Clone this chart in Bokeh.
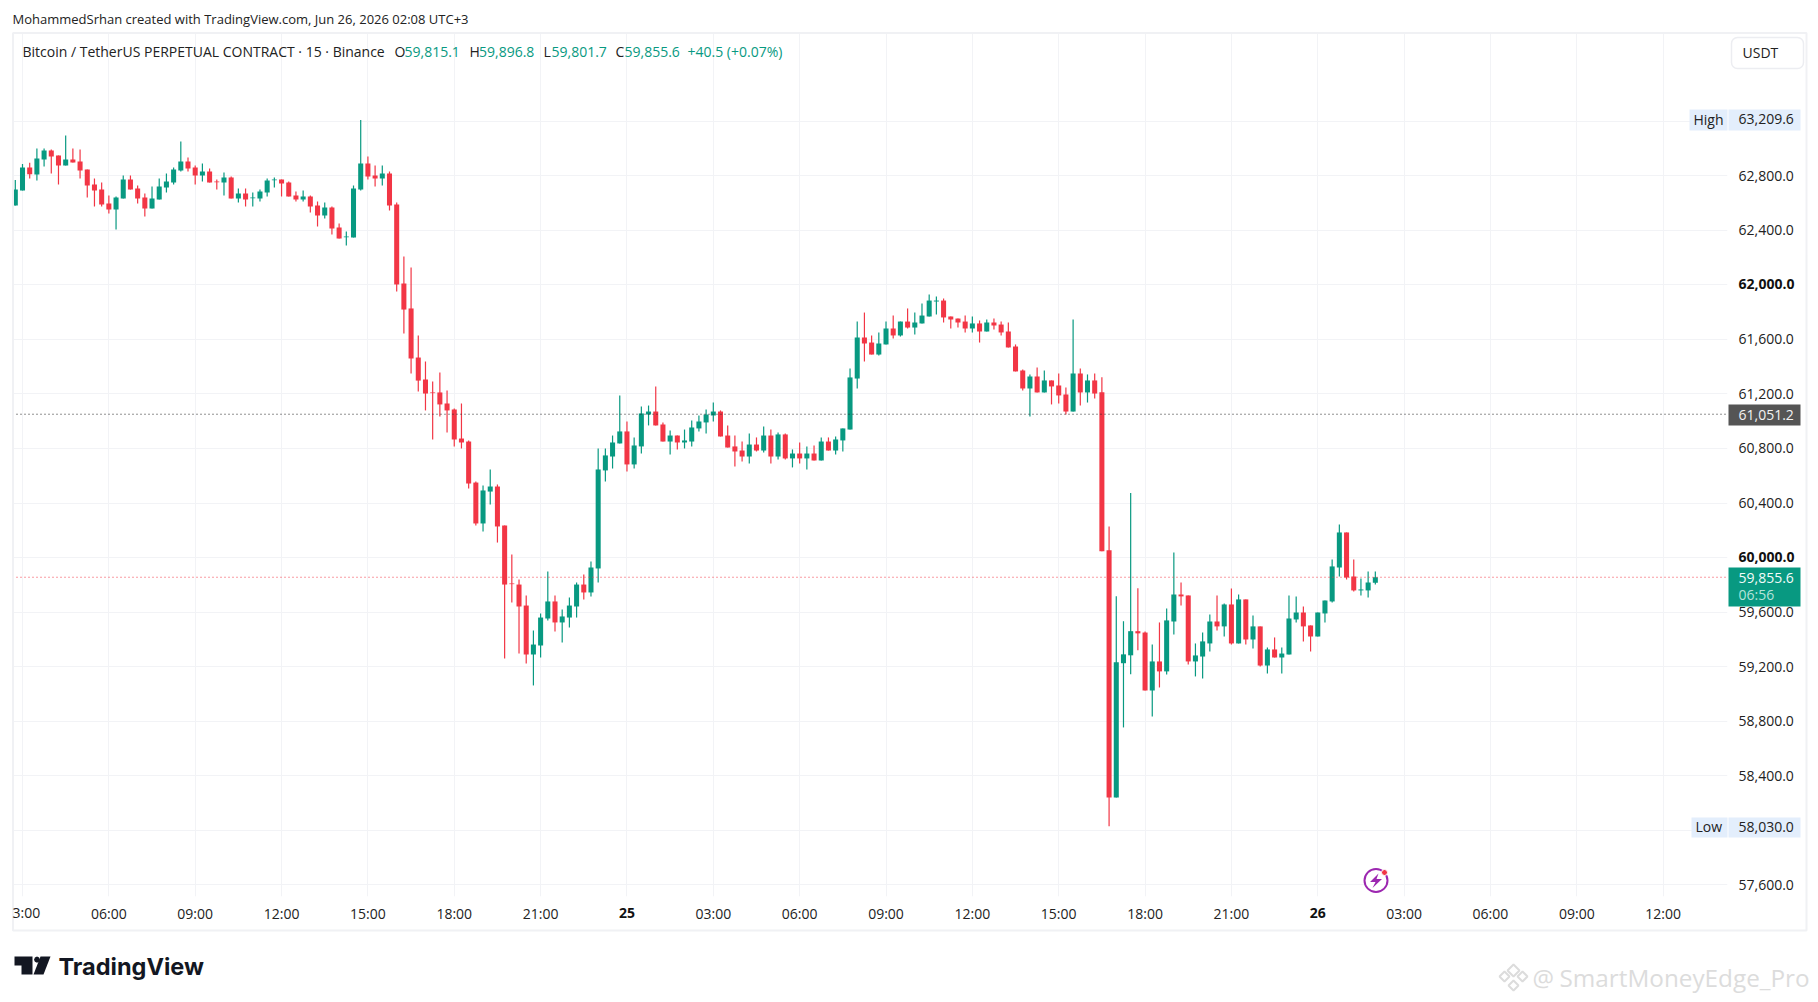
from bokeh.plotting import figure
from bokeh.layouts import column
from bokeh.models import (FixedTicker, LinearAxis, NumeralTickFormatter, Label, BoxAnnotation,
                          PolyAnnotation, Span, ColumnDataSource, Range1d)
from bokeh.embed import file_html
from bokeh.resources import INLINE

opens = [62582,62692,62861,62809,62919,62985,62949,62875,62919,62905,62846,62736,62699,62597,62553,62633,62773,62707,62641,62560,
 62626,62714,62751,62839,62905,62861,62802,62831,62758,62751,62787,62633,62670,62636,62633,62677,62768,62773,62751,62655,
 62626,62648,62582,62509,62567,62421,62350,62347,62699,62890,62802,62780,62817,62589,62010,61827,61467,61306,61211,61211,
 61130,61086,60873,60851,60550,60250,60484,60521,60235,59810,59802,59648,59289,59355,59553,59678,59524,59560,59641,59802,
 59744,59920,60639,60741,60837,60925,60683,60815,61049,61071,60976,60851,60895,60844,60851,60947,60991,61042,61071,60895,
 60815,60785,60741,60829,60785,60895,60741,60903,60727,60763,60727,60763,60712,60851,60785,60859,60939,61313,61614,61577,
 61489,61563,61680,61629,61731,61687,61717,61768,61878,61885,61768,61753,61731,61680,61717,61658,61724,61709,61658,61548,
 61372,61240,61328,61211,61299,61262,61196,61071,61350,61211,61299,61213,60053,58241,59225,59283,59460,59450,59025,59238,
 59165,59531,59729,59722,59238,59274,59370,59531,59495,59656,59370,59693,59399,59495,59208,59326,59267,59289,59546,59597,
 59502,59421,59590,59678,59927,60184,59861,59759,59759,59815.1]
highs = [62770,62887,62895,63000,63000,62993,62949,63095,63000,62993,62846,62780,62751,62655,62648,62802,62802,62729,62670,62721,
 62780,62817,62861,63051,62934,62875,62890,62853,62773,62824,62795,62707,62707,62677,62699,62780,62787,62773,62758,62685,
 62692,62655,62611,62604,62575,62450,62391,62729,63209.6,62941,62875,62875,62831,62604,62208,62127,61629,61438,61291,61357,
 61225,61093,61130,60859,60558,60528,60646,60536,60235,60022,59839,59722,59465,59590,59898,59722,59619,59707,59817,59876,
 59971,60800,60800,60895,61189,60998,60881,61108,61115,61255,60991,60932,60895,60939,61005,61042,61086,61137,61079,60969,
 60895,60851,60910,60881,60961,60939,60917,60910,60793,60844,60815,60822,60881,60881,60888,60947,61387,61731,61797,61629,
 61651,61731,61775,61731,61827,61797,61863,61929,61915,61900,61768,61753,61775,61768,61739,61746,61753,61731,61724,61563,
 61379,61343,61394,61372,61299,61350,61247,61746,61387,61343,61350,61322,60228,59717,59533,60473,59775,59458,59362,59524,
 59627,60037,59817,59722,59370,59450,59582,59722,59663,59773,59729,59693,59575,59495,59340,59414,59340,59722,59715,59641,
 59502,59597,59685,59986,60243,60184,59986,59847,59898,59896.8]
lows = [62582,62692,62780,62765,62868,62817,62736,62875,62897,62780,62641,62575,62575,62523,62406,62633,62699,62597,62501,62560,
 62626,62677,62736,62831,62831,62736,62758,62751,62699,62655,62633,62604,62575,62575,62611,62648,62714,62648,62648,62611,
 62611,62531,62428,62487,62369,62340,62289,62347,62692,62773,62721,62729,62545,61951,61643,61350,61218,61079,60866,61035,
 60917,60815,60800,60506,60235,60191,60389,60110,59260,59670,59296,59223,59062,59267,59538,59458,59377,59487,59560,59692,
 59714,59817,60558,60653,60837,60631,60653,60763,60969,60969,60851,60756,60793,60800,60815,60925,60910,60998,60888,60807,
 60668,60705,60690,60778,60771,60690,60719,60719,60661,60690,60646,60712,60712,60785,60756,60778,60939,61240,61438,61489,
 61482,61563,61607,61621,61680,61636,61717,61768,61783,61724,61680,61687,61651,61651,61577,61658,61673,61629,61541,61365,
 61225,61035,61211,61211,61123,61130,61049,61071,61115,61137,61167,60046,58030,58241,58754,59144,59321,59025,58834,59047,
 59142,59436,59648,59216,59128,59113,59311,59465,59421,59362,59370,59362,59333,59201,59150,59267,59150,59289,59524,59384,
 59311,59421,59524,59670,59861,59839,59751,59722,59707,59801.7]
closes = [62699,62861,62812,62927,62985,62941,62875,62919,62897,62839,62729,62692,62589,62553,62641,62773,62699,62633,62560,62633,
 62721,62758,62846,62905,62853,62802,62831,62751,62753,62787,62633,62670,62626,62641,62685,62765,62773,62743,62648,62626,
 62648,62575,62509,62567,62413,62340,62355,62707,62890,62795,62780,62817,62582,62003,61819,61460,61298,61203,61206,61123,
 61079,60866,60844,60543,60250,60492,60521,60228,59802,59805,59641,59289,59362,59560,59678,59524,59568,59648,59802,59744,
 59927,60646,60749,60844,60925,60683,60822,61057,61071,60969,60851,60895,60844,60859,60954,60998,61049,61071,60888,60807,
 60778,60741,60829,60785,60895,60741,60903,60727,60763,60727,60763,60712,60851,60785,60866,60947,61321,61614,61570,61489,
 61570,61680,61629,61731,61687,61724,61775,61885,61885,61761,61746,61724,61680,61717,61658,61724,61702,61651,61541,61365,
 61240,61328,61211,61299,61255,61189,61071,61350,61211,61299,61203,60046,58241,59232,59290,59460,59444,59025,59238,59165,
 59539,59729,59715,59238,59282,59385,59531,59495,59656,59370,59693,59399,59495,59208,59326,59267,59296,59553,59597,59495,
 59421,59597,59685,59935,60184,59854,59759,59766,59817,59855.6]
first_bar = -1                       # bar index of the first (02:45) candle; 03:00 = 0
time_ticks = [12, 24, 36, 48, 60, 72, 96, 108, 120, 132, 144, 156, 168, 192, 204, 216, 228]
time_labels = ["06:00", "09:00", "12:00", "15:00", "18:00", "21:00", "03:00", "06:00", "09:00", "12:00",
               "15:00", "18:00", "21:00", "03:00", "06:00", "09:00", "12:00"]
day_ticks = [84, 180]
day_labels = ["25", "26"]
vgrid_ticks = [0] + sorted(time_ticks + day_ticks)
price_ticks = [57600, 58400, 58800, 59200, 59600, 60400, 60800, 61200, 61600, 62400, 62800]
bold_prices = [60000, 62000]
hgrid_ticks = sorted(price_ticks + bold_prices + [58000, 63200])
high_price, low_price = 63209.6, 58030.0
prev_close = 61051.2
last_price = closes[-1]

UP, DOWN = "#089981", "#F23645"
GRID = "#F2F3F6"
FONT = "Open Sans"
W, H = 1818, 1002
X0, X1, Y0, Y1 = -1.39, 236.94, 57514, 63851
F_L, F_R, F_T, F_B = 12, 1727, 32, 896   # chart pane in page pixels

bars = [first_bar + i for i in range(len(opens))]
src = ColumnDataSource(dict(
    x=bars, high=highs, low=lows,
    top=[max(o, c) for o, c in zip(opens, closes)],
    bottom=[min(o, c) for o, c in zip(opens, closes)],
    color=[UP if c >= o else DOWN for o, c in zip(opens, closes)],
))

p = figure(width=W, height=H, output_backend="svg", toolbar_location=None,
           x_range=Range1d(X0, X1), y_range=Range1d(Y0, Y1),
           x_axis_location=None, y_axis_location=None, frame_align=False,
           min_border_left=F_L, min_border_right=W - F_R, min_border_top=F_T, min_border_bottom=H - F_B,
           background_fill_color="white", border_fill_color="white", outline_line_color=None)
p.xgrid.ticker = FixedTicker(ticks=vgrid_ticks)
p.ygrid.ticker = FixedTicker(ticks=hgrid_ticks)
p.xgrid.grid_line_color = GRID
p.ygrid.grid_line_color = GRID
p.segment("x", "high", "x", "low", color="color", line_width=1.2, source=src)
p.vbar(x="x", top="top", bottom="bottom", width=0.7, fill_color="color", line_color=None, source=src)


def style_axis(ax):
    ax.axis_line_color = None
    ax.major_tick_line_color = None
    ax.minor_tick_line_color = None
    ax.major_tick_in = 0
    ax.major_tick_out = 0
    ax.minor_tick_in = 0
    ax.minor_tick_out = 0
    ax.major_label_text_font = FONT
    ax.major_label_text_font_size = "14px"
    ax.major_label_text_color = "#222222"


ya = LinearAxis(ticker=FixedTicker(ticks=price_ticks), formatter=NumeralTickFormatter(format="0,0.0"))
style_axis(ya)
ya.major_label_standoff = 11
p.add_layout(ya, "right")
xa = LinearAxis(ticker=FixedTicker(ticks=time_ticks),
                major_label_overrides=dict(zip(time_ticks, time_labels)))
style_axis(xa)
xa.major_label_standoff = 7
p.add_layout(xa, "below")

p.add_layout(Span(location=prev_close, dimension="width", line_color="#222222", line_dash="1 3", line_width=1))
p.add_layout(Span(location=last_price, dimension="width", line_color=DOWN, line_dash="1 3", line_width=1))

# transparent overlay in page pixels, for everything that lies outside the chart pane
o = figure(width=W, height=H, output_backend="svg", toolbar_location=None,
           x_range=Range1d(0, W), y_range=Range1d(H, 0),
           x_axis_location=None, y_axis_location=None, frame_align=False,
           min_border=0, min_border_left=0, min_border_right=0, min_border_top=0, min_border_bottom=0,
           background_fill_color=None, border_fill_color=None, outline_line_color=None,
           margin=(-H, 0, 0, 0))
o.grid.visible = False


def px(bar):
    return F_L + (bar - X0) / (X1 - X0) * (F_R - F_L)


def py(price):
    return F_B - (price - Y0) / (Y1 - Y0) * (F_B - F_T)


def box(l, r, t, b, fill=None, line=None, lw=1, radius=0):
    o.add_layout(BoxAnnotation(left=l, right=r, top=t, bottom=b,
                               fill_color=fill, fill_alpha=1 if fill else 0,
                               line_color=line, line_alpha=1, line_width=lw, border_radius=radius, editable=False))


def txt(s, x, y, size=14, color="#222222", style="normal", align="left", font=FONT):
    o.add_layout(Label(text=s, x=x, y=y, text_font=font, text_font_size=f"{size}px", text_color=color,
                       text_font_style=style, text_align=align, text_baseline="middle"))


def poly(pts, fill=None, line=None, lw=1):
    o.add_layout(PolyAnnotation(xs=[a for a, _ in pts], ys=[b for _, b in pts],
                                fill_color=fill, fill_alpha=1 if fill else 0, line_color=line, line_alpha=1,
                                line_width=lw))


# outer chart border
box(12.5, 1806, 32.5, 930, line="#F0F1F4", lw=2)

# title lines
txt("MohammedSrhan created with TradingView.com, Jun 26, 2026 02:08 UTC+3", 12, 18, size=13)
txt("Bitcoin / TetherUS PERPETUAL CONTRACT · 15 · Binance", 22, 51, size=14)
for letter, lx, val, vx in [("O", 394, f"{opens[-1]:,.1f}", 404), ("H", 469, f"{highs[-1]:,.1f}", 478.5),
                            ("L", 543, f"{lows[-1]:,.1f}", 551), ("C", 615, f"{closes[-1]:,.1f}", 624)]:
    txt(letter, lx, 51, size=14)
    txt(val, vx, 51, size=14, color=UP)
txt("+40.5 (+0.07%)", 687, 51, size=14, color=UP)

# currency button
box(1731, 1803, 37, 68, fill="white", line="#ECEDF1", lw=1.5, radius=6)
txt("USDT", 1742, 52, size=14)

# bold ticks
for v in bold_prices:
    txt(f"{v:,.1f}", 1738, py(v) - 1, style="bold", color="#111111")
for t, s in zip(day_ticks, day_labels):
    txt(s, px(t), 912, style="bold", color="#111111", align="center")
txt("3:00", 12, 912)

# price tags
box(1689, 1727, 109, 130, fill="#E3EEFC")
txt("High", 1693, 118.5)
box(1728, 1800, 109, 130, fill="#E3EEFC")
txt(f"{high_price:,.1f}", 1738, 118.5)
box(1691, 1727, 817, 837, fill="#E3EEFC")
txt("Low", 1695, 826)
box(1728, 1800, 817, 837, fill="#E3EEFC")
txt(f"{low_price:,.1f}", 1738, 826)
box(1728, 1800, 404, 425, fill="#555555")
txt(f"{prev_close:,.1f}", 1738, 414, color="#F2F2F2")
box(1728, 1800, 567, 606, fill=UP)
txt(f"{last_price:,.1f}", 1738, 577, color="#F2FBF9")
txt("06:56", 1738, 594, color="#B5E3DA")

# badge
box(1364, 1387, 868.5, 891.5, fill="white", line="#9C27B0", lw=2, radius=12)
poly([(1378, 873), (1369.5, 881.5), (1375, 881.5), (1372, 887.5), (1381.5, 878.5), (1376, 878.5)], fill="#9C27B0")
box(1381, 1387, 869, 875, fill=DOWN, line="white", lw=1, radius=3)

# TradingView logo
poly([(14, 956), (32, 956), (32, 974), (21, 974), (21, 965), (14, 965)], fill="#131722")
poly([(40, 956), (50, 956), (43, 974), (33, 974)], fill="#131722")
poly([(36.5, 956), (38.6, 957), (39.5, 959.2), (38.6, 961.3), (36.5, 962.2), (34.4, 961.3), (33.5, 959.2), (34.4, 957)],
     fill="#131722")
txt("TradingView", 58, 966, size=23.5, color="#131722", style="bold", font="Inter")

# watermark
WM = "#DCDCDC"
poly([(1513, 964), (1519, 970), (1513, 976), (1507, 970)], line=WM, lw=2)
poly([(1504, 971), (1509, 976), (1504, 981), (1499, 976)], line=WM, lw=2)
poly([(1522, 971), (1527, 976), (1522, 981), (1517, 976)], line=WM, lw=2)
poly([(1513, 980), (1518, 985), (1513, 990), (1508, 985)], line=WM, lw=2)
txt("@", 1532, 977, size=24, color=WM)
txt("SmartMoneyEdge_Pro", 1559, 977, size=24.3, color=WM)

open("out.html", "w").write(file_html(column(p, o), INLINE))
